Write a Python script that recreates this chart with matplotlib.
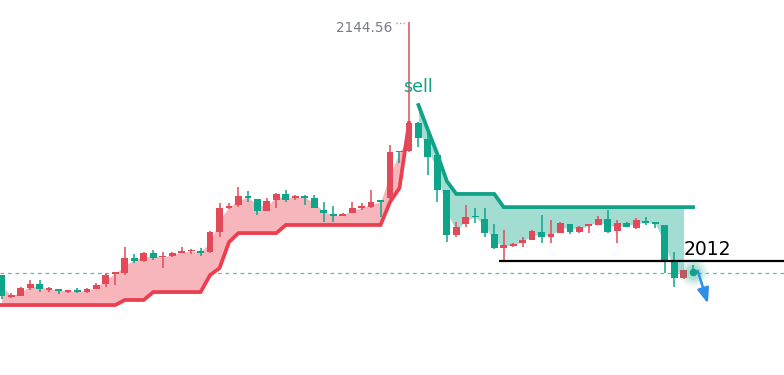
import numpy as np
import matplotlib
matplotlib.use("Agg")
import matplotlib.pyplot as plt

# OHLC values (74 bars)
opens = [2004.2, 1992.0, 1992.6, 1997.0, 1999.2, 1996.2, 1996.5, 1995.1, 1995.4, 1994.8,
         1996.5, 1999.2, 2004.8, 2005.3, 2013.7, 2012.0, 2016.4, 2014.0, 2014.8, 2016.4,
         2017.3, 2017.5, 2017.0, 2028.1, 2041.4, 2043.1, 2048.0, 2046.4, 2039.7, 2045.8,
         2049.2, 2046.9, 2047.5, 2046.9, 2040.3, 2038.1, 2037.0, 2038.6, 2041.4, 2041.9,
         2045.0, 2046.9, 2072.5, 2073.0, 2088.5, 2079.7, 2070.8, 2051.4, 2026.4, 2032.5,
         2036.7, 2035.3, 2027.0, 2019.2, 2020.3, 2022.0, 2023.6, 2028.1, 2025.3, 2027.5,
         2032.5, 2028.1, 2031.7, 2032.0, 2035.3, 2028.6, 2033.1, 2030.3, 2034.2, 2033.1,
         2032.0, 2011.4, 2002.6, 2006.0]
highs = [2004.5, 1994.3, 1997.6, 2001.5, 2001.5, 1997.6, 1996.5, 1996.0, 1997.0, 1997.0,
         1999.8, 2005.3, 2005.5, 2019.8, 2015.9, 2016.8, 2018.1, 2017.0, 2016.8, 2019.8,
         2018.6, 2019.2, 2028.6, 2044.2, 2044.2, 2053.0, 2050.8, 2046.6, 2046.9, 2049.6,
         2051.4, 2048.6, 2048.6, 2048.6, 2044.7, 2042.5, 2038.4, 2044.7, 2044.2, 2051.4,
         2045.8, 2076.3, 2072.7, 2144.56, 2088.9, 2083.0, 2071.0, 2051.6, 2033.6, 2043.1,
         2041.4, 2041.4, 2032.5, 2029.2, 2022.0, 2025.3, 2029.2, 2037.5, 2034.7, 2033.6,
         2032.8, 2031.4, 2032.2, 2037.0, 2040.3, 2034.7, 2033.4, 2035.8, 2036.4, 2033.6,
         2032.2, 2017.0, 2007.3, 2009.8]
lows = [1990.9, 1991.5, 1992.4, 1995.9, 1994.8, 1994.8, 1993.7, 1994.3, 1994.3, 1994.3,
        1996.3, 1997.6, 1998.7, 2004.2, 2010.9, 2011.6, 2012.6, 2008.1, 2014.5, 2016.2,
        2015.9, 2014.8, 2016.4, 2025.3, 2041.0, 2042.0, 2044.7, 2037.5, 2039.5, 2041.4,
        2044.7, 2045.8, 2043.1, 2041.2, 2033.6, 2033.6, 2036.7, 2038.4, 2040.3, 2041.4,
        2036.4, 2046.6, 2066.3, 2072.7, 2075.2, 2059.7, 2044.7, 2022.5, 2025.3, 2030.9,
        2033.1, 2025.3, 2018.9, 2012.6, 2020.0, 2019.8, 2023.4, 2022.0, 2022.0, 2027.3,
        2027.0, 2027.5, 2027.5, 2031.8, 2027.5, 2022.0, 2030.6, 2029.7, 2032.0, 2030.3,
        2005.3, 1997.6, 2002.3, 2005.0]
closes = [1992.6, 1993.1, 1997.0, 1999.2, 1996.5, 1996.5, 1995.4, 1995.9, 1994.9, 1996.5,
          1998.7, 2004.2, 2005.3, 2013.7, 2012.0, 2016.4, 2013.7, 2014.2, 2016.4, 2017.5,
          2017.5, 2016.4, 2028.1, 2041.4, 2042.5, 2048.0, 2046.9, 2039.7, 2045.3, 2049.2,
          2045.8, 2047.5, 2047.2, 2041.4, 2038.6, 2037.0, 2038.1, 2041.4, 2041.9, 2044.7,
          2044.7, 2072.5, 2072.2, 2088.5, 2080.2, 2069.7, 2051.4, 2026.4, 2030.9, 2036.4,
          2036.2, 2027.5, 2019.2, 2020.9, 2021.4, 2023.6, 2028.6, 2025.3, 2027.0, 2033.1,
          2028.1, 2030.9, 2032.0, 2035.3, 2028.1, 2033.1, 2030.9, 2034.7, 2033.1, 2032.8,
          2011.4, 2002.6, 2007.0, 2005.3]

# supertrend: up-trend (bars 0-43) and down-trend (bars 44-73)
trend_up = [1987.6] * 13 + [1990.4] * 3 + [1994.8] * 6 + [2004.2, 2008.1, 2022.5] + \
           [2027.5] * 5 + [2032.0] * 11 + [2044.7, 2052.5, 2088.5]
trend_down = [2098.5, 2084.7, 2071.3, 2056.3] + [2049.2] * 5 + [2041.9] * 21

max_price = 2144.56
level_price = 2012
last_price = 2005.3

red = '#e24a59'
green = '#0ea58a'
line_red = '#eb3f50'
line_green = '#10a286'
fill_red = '#f6b6bc'
fill_green = '#a3ddd2'

o = np.array(opens)
h = np.array(highs)
l = np.array(lows)
c = np.array(closes)
x = np.arange(len(o))
mids = (o + c) / 2
n_up = len(trend_up)

fig = plt.figure(figsize=(7.84, 3.75), dpi=100)
ax = fig.add_axes([0, 0, 1, 1])
ax.axis('off')
ax.set_xlim(-0.18, 82.6)
ax.set_ylim(1948.8, 2156.75)

# fills between trend line and candle body middle
ax.fill_between(x[:n_up], trend_up, mids[:n_up], color=fill_red, lw=0, zorder=1)
xd = x[n_up:]
ax.fill_between(xd[:-1], trend_down[:-1], mids[n_up:-1], color=fill_green, lw=0, zorder=1)

ax.plot(x[:n_up], trend_up, color=line_red, lw=2.7, zorder=2, solid_joinstyle='miter')
ax.plot(xd, trend_down, color=line_green, lw=2.7, zorder=2, solid_joinstyle='miter')

# candles
colors = [red if cc >= oo else green for oo, cc in zip(o, c)]
ax.vlines(x, l, h, colors=colors, lw=1.1, zorder=3)
body_bottom = np.minimum(o, c)
body_h = np.maximum(np.abs(c - o), 0.9)
ax.bar(x, body_h, bottom=body_bottom, width=0.72, color=colors, lw=0, zorder=4)

# last price dashed line
ax.axhline(last_price, color='#5cbfae', lw=0.9, ls=(0, (3, 3)), zorder=0)

# horizontal level
ax.hlines(level_price, 52.5, 83, color='black', lw=1.6, zorder=5)
ax.text(72.0, level_price + 1.3, '2012', fontsize=13.5, color='black',
        ha='left', va='bottom', zorder=6)

# max price marker
ax.text(41.2, 2141.0, f'{max_price:.2f}', fontsize=9.8, color='#787b86',
        ha='right', va='center')
ax.plot([41.6, 42.6], [2144.0, 2144.0], color='#9a9ca5', lw=1, ls=(0, (1, 1.5)))

# sell label
ax.text(43.96, 2108.5, 'sell', fontsize=12.5, color=line_green, ha='center', va='center')

# glowing last-price dot
for s, a in [(420, 0.06), (300, 0.08), (200, 0.1), (120, 0.14)]:
    ax.scatter([73], [2005.9], s=s, color=line_green, alpha=a, lw=0, zorder=6)
ax.scatter([73], [2005.9], s=30, color=line_green, lw=0, zorder=7)

# forecast arrow
ax.annotate('', xy=(74.65, 1987.0), xytext=(73.4, 2008.1),
            arrowprops=dict(arrowstyle='-|>,head_width=0.35,head_length=0.9',
                            color='#2f8fe8', lw=1.8), zorder=8)

fig.savefig('out.png', dpi=100)
